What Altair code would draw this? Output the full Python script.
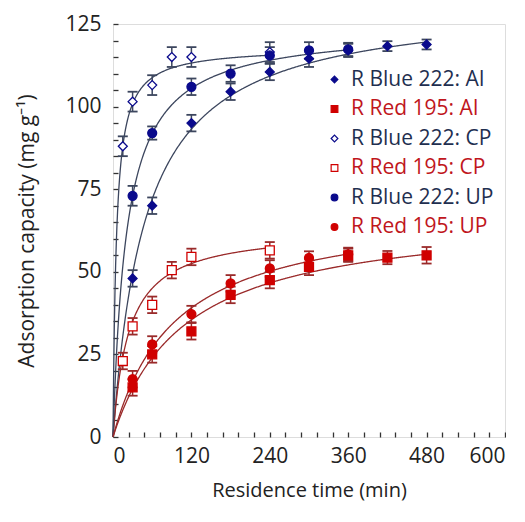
import altair as alt
import pandas as pd
import numpy as np

# ---- data ----
labels = ["R Blue 222: AI", "R Red 195: AI", "R Blue 222: CP",
          "R Red 195: CP", "R Blue 222: UP", "R Red 195: UP"]
groups = ["Blue", "Red", "Blue", "Red", "Blue", "Red"]

blue_ai_t = [30, 60, 120, 180, 240, 300, 360, 420, 480]
blue_ai_q = [48, 70, 95, 104.5, 110.5, 114.5, 117, 118.3, 118.8]
blue_ai_e = [2.5, 2.5, 2.5, 2.5, 2.5, 2.5, 2, 1.5, 1.5]

red_ai_t = [30, 60, 120, 180, 240, 300, 360, 420, 480]
red_ai_q = [15, 25, 32, 43, 47.5, 51.5, 55, 54.3, 55]
red_ai_e = [2.5, 2.5, 2.5, 2.5, 2.5, 2.5, 2, 2, 2.5]

blue_cp_t = [15, 30, 60, 90, 120, 240]
blue_cp_q = [88, 101.5, 106.5, 115, 115, 116.5]
blue_cp_e = [3, 3, 3, 3, 3, 3]

red_cp_t = [15, 30, 60, 90, 120, 240]
red_cp_q = [23, 33.5, 40, 50.5, 54.5, 56.5]
red_cp_e = [2.5, 2.5, 2.5, 2.5, 2.5, 2.5]

blue_up_t = [30, 60, 120, 180, 240, 300, 360]
blue_up_q = [73, 92, 106, 110, 115.5, 117, 117.3]
blue_up_e = [3, 2, 2.5, 2.5, 2.5, 2.5, 2]

red_up_t = [30, 60, 120, 180, 240, 300, 360]
red_up_q = [17.5, 28, 37.2, 46.5, 51, 54.2, 55.3]
red_up_e = [2.5, 2.5, 2.5, 2.5, 2.5, 2, 2]

# fitted kinetic model parameters (q = qe * t / (t + t_half)), end time of each fit
fit_qe = [132, 68, 118, 63, 124, 70]
fit_th = [50, 110, 5.1, 24, 21, 95]
fit_end = [480, 480, 240, 240, 360, 360]

x_ticks = [0, 120, 240, 360, 480, 600]
x_minor = list(range(0, 601, 24))
y_ticks = [0, 25, 50, 75, 100, 125]
y_minor = list(range(0, 126, 5))

series = [
    (blue_ai_t, blue_ai_q, blue_ai_e), (red_ai_t, red_ai_q, red_ai_e),
    (blue_cp_t, blue_cp_q, blue_cp_e), (red_cp_t, red_cp_q, red_cp_e),
    (blue_up_t, blue_up_q, blue_up_e), (red_up_t, red_up_q, red_up_e),
]

rows = []
for lab, grp, (ts, qs, es) in zip(labels, groups, series):
    for t, q, e in zip(ts, qs, es):
        rows.append({"series": lab, "group": grp, "t": t, "q": q,
                     "lo": q - e, "hi": q + e})
pts = pd.DataFrame(rows)

crows = []
for lab, grp, qe, th, te in zip(labels, groups, fit_qe, fit_th, fit_end):
    for t in np.arange(0, te + 0.5, 1.0):
        crows.append({"series": lab, "group": grp, "t": float(t),
                      "q": qe * t / (t + th)})
curves = pd.DataFrame(crows)

BLUE = "#0a0a8c"
RED = "#d00000"
FONT = "Open Sans"

xscale = alt.Scale(domain=[0, 600], nice=False, zero=True)
yscale = alt.Scale(domain=[0, 125], nice=False, zero=True)

grp_color = alt.Color("group:N", legend=None,
                      scale=alt.Scale(domain=["Blue", "Red"],
                                      range=["#3c465e", "#9a2a2a"]))
bar_color = alt.Color("group:N", legend=None,
                      scale=alt.Scale(domain=["Blue", "Red"],
                                      range=["#10103c", "#8a0a0a"]))

curve_layer = alt.Chart(curves).mark_line(strokeWidth=1.3).encode(
    x=alt.X("t:Q", scale=xscale,
            axis=alt.Axis(orient="bottom", values=x_minor, labels=False,
                          ticks=True, tickSize=5, offset=-5, domain=False,
                          grid=False, title=None, tickColor="#333",
                          tickWidth=1.3)),
    y=alt.Y("q:Q", scale=yscale,
            axis=alt.Axis(orient="left", values=y_minor, labels=False,
                          ticks=True, tickSize=5, offset=-5, domain=False,
                          grid=False, title=None, tickColor="#333",
                          tickWidth=1.3)),
    color=grp_color,
    detail="series:N",
)

err_rule = alt.Chart(pts).mark_rule(strokeWidth=1.5, opacity=1).encode(
    x=alt.X("t:Q", axis=None), y=alt.Y("lo:Q", axis=None), y2="hi:Q",
    color=bar_color)
err_top = alt.Chart(pts).mark_tick(orient="horizontal", size=10, thickness=1.8,
                                   opacity=1).encode(
    x=alt.X("t:Q", axis=None), y=alt.Y("hi:Q", axis=None), color=bar_color)
err_bot = alt.Chart(pts).mark_tick(orient="horizontal", size=10, thickness=1.8,
                                   opacity=1).encode(
    x=alt.X("t:Q", axis=None), y=alt.Y("lo:Q", axis=None), color=bar_color)

legend = alt.Legend(
    title=None, orient="none", legendX=211, legendY=45, padding=0,
    rowPadding=7.5, labelFont=FONT, labelFontSize=21, labelOffset=6,
    symbolSize=45, symbolStrokeWidth=1.2,
    labelColor={"expr": "indexof(datum.label, 'Red') >= 0 ? '#c0161c' : '#1f2f50'"},
)

point_layer = alt.Chart(pts).mark_point(strokeWidth=1.3, size=80, opacity=1).encode(
    x=alt.X("t:Q", scale=xscale,
            axis=alt.Axis(orient="bottom", values=x_ticks, ticks=False,
                          domain=False, grid=False, labelPadding=8,
                          labelFontSize=21, labelFont=FONT, labelColor="#222",
                          title="Residence time (min)", titleFont=FONT,
                          titleFontSize=20, titleFontWeight="normal",
                          titleColor="#222", titlePadding=14)),
    y=alt.Y("q:Q", scale=yscale,
            axis=alt.Axis(orient="left", values=y_ticks, ticks=False,
                          domain=False, grid=False, labelPadding=12,
                          labelFontSize=21, labelFont=FONT, labelColor="#222",
                          title="Adsorption capacity (mg g⁻¹)", titleFont=FONT,
                          titleFontSize=21, titleFontWeight="normal",
                          titleColor="#222", titlePadding=27)),
    shape=alt.Shape("series:N", legend=legend,
                    scale=alt.Scale(domain=labels,
                                    range=["diamond", "square", "diamond",
                                           "square", "circle", "circle"])),
    stroke=alt.Stroke("series:N", legend=legend,
                      scale=alt.Scale(domain=labels,
                                      range=[BLUE, RED, BLUE, RED, BLUE, RED])),
    fill=alt.Fill("series:N", legend=legend,
                  scale=alt.Scale(domain=labels,
                                  range=[BLUE, RED, "white", "white", BLUE, RED])),
)

chart = alt.layer(curve_layer, err_rule, err_top, err_bot, point_layer).resolve_axis(
    x="independent", y="independent"
).properties(
    width=392, height=413,
    padding={"left": 8, "top": 5, "right": 0, "bottom": 5},
).configure_view(stroke="#333", strokeWidth=1.5).configure(background="white")

chart.save("out.html", embed_options={"renderer": "svg", "actions": False})
